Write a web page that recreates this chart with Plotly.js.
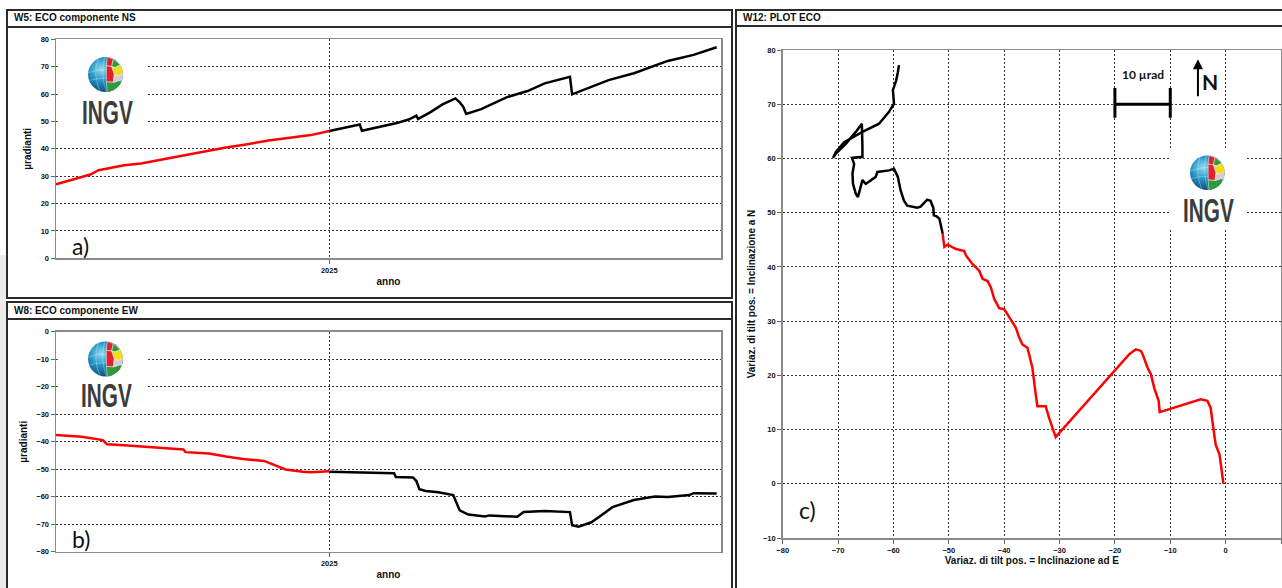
<!DOCTYPE html>
<html>
<head>
<meta charset="utf-8">
<script src="https://cdn.plot.ly/plotly-3.0.1.min.js"></script>
<style>html,body{margin:0;padding:0;background:#fff;}#chart{width:1282px;height:588px;}</style>
</head>
<body>
<div id="chart"></div>
<script>
// ---------- DATA ----------
// Panel a) NS component (µradianti) vs time (decimal year)
const tRedNS = [2024.363, 2024.403, 2024.443, 2024.462, 2024.492, 2024.522, 2024.561, 2024.611, 2024.660, 2024.710, 2024.759, 2024.809, 2024.858, 2024.908, 2024.957, 2025.000];
const nsRed  = [27.0, 28.8, 30.6, 32.2, 33.0, 34.0, 34.6, 36.1, 37.4, 38.9, 40.5, 41.7, 43.0, 44.0, 45.0, 46.5];
const tBlackNS = [2025.000, 2025.037, 2025.071, 2025.076, 2025.116, 2025.155, 2025.185, 2025.203, 2025.207, 2025.235, 2025.264, 2025.294, 2025.304, 2025.312, 2025.319, 2025.354, 2025.413, 2025.462, 2025.502, 2025.561, 2025.566, 2025.591, 2025.651, 2025.710, 2025.789, 2025.849, 2025.903];
const nsBlack  = [46.5, 47.7, 48.9, 46.6, 47.9, 49.3, 50.7, 52.1, 50.9, 53.3, 56.2, 58.4, 57.0, 55.4, 52.7, 54.5, 58.8, 61.1, 63.9, 66.3, 59.9, 61.5, 65.1, 67.6, 72.1, 74.3, 77.1];

// Panel b) EW component
const tRedEW = [2024.363, 2024.423, 2024.472, 2024.482, 2024.522, 2024.561, 2024.621, 2024.660, 2024.665, 2024.720, 2024.759, 2024.799, 2024.848, 2024.868, 2024.898, 2024.938, 2024.957, 2025.000];
const ewRed  = [-37.6, -38.2, -39.4, -40.9, -41.3, -41.8, -42.4, -42.8, -43.8, -44.3, -45.4, -46.3, -47.0, -48.2, -50.1, -50.9, -51.1, -50.7];
const tBlackEW = [2025.000, 2025.056, 2025.116, 2025.151, 2025.155, 2025.195, 2025.203, 2025.210, 2025.225, 2025.254, 2025.289, 2025.294, 2025.304, 2025.324, 2025.363, 2025.373, 2025.438, 2025.453, 2025.502, 2025.561, 2025.566, 2025.581, 2025.611, 2025.631, 2025.660, 2025.710, 2025.759, 2025.789, 2025.839, 2025.849, 2025.903];
const ewBlack  = [-50.9, -51.2, -51.5, -51.5, -52.8, -53.0, -54.3, -57.3, -57.9, -58.4, -59.4, -61.3, -65.0, -66.5, -67.2, -66.8, -67.3, -65.6, -65.2, -65.6, -70.4, -70.9, -69.3, -67.1, -63.8, -61.2, -59.9, -60.1, -59.4, -58.7, -58.8];

// Panel c) tilt vector plot: E (x) vs N (y)
const eRed = [-0.4, -0.7, -1.1, -1.8, -2.1, -2.4, -2.7, -3.3, -4.5, -11.9, -12.1, -12.9, -13.5, -14.1, -15.0, -15.3, -16.2, -17.4, -30.7, -31.3, -31.9, -32.5, -34.0, -34.3, -34.6, -34.9, -35.5, -35.8, -36.7, -37.3, -37.9, -39.1, -40.0, -40.9, -41.8, -42.4, -43.0, -43.9, -44.5, -45.7, -46.9, -47.2, -48.7, -50.2, -50.8, -51.0, -51.1];
const nRed = [0.0, 2.3, 5.4, 7.2, 9.1, 11.6, 14.0, 15.3, 15.6, 13.2, 15.3, 17.7, 20.2, 21.4, 23.9, 24.5, 24.8, 23.9, 8.6, 10.3, 12.2, 14.3, 14.3, 16.5, 19.6, 21.4, 23.9, 25.1, 25.7, 27.0, 28.8, 30.7, 32.2, 32.4, 34.1, 36.2, 37.4, 37.8, 39.3, 40.5, 42.1, 42.9, 43.3, 44.1, 43.7, 45.2, 46.1];
const eBlack = [-51.1, -51.4, -51.7, -52.2, -52.7, -52.8, -53.3, -53.9, -55.1, -55.7, -57.5, -58.1, -58.7, -59.2, -59.9, -60.8, -62.9, -63.2, -65.0, -65.6, -66.4, -66.8, -67.3, -67.4, -67.1, -67.5, -65.6, -65.6, -65.7, -66.8, -68.6, -70.4, -70.9, -70.4, -68.9, -65.6, -62.6, -60.8, -59.9, -60.1, -59.5, -59.2, -59.0];
const nBlack = [46.1, 47.3, 48.9, 49.3, 49.5, 50.9, 52.2, 52.4, 51.1, 50.9, 51.3, 52.2, 54.1, 56.6, 58.1, 57.8, 57.5, 56.6, 55.3, 56.0, 52.9, 53.5, 55.3, 57.2, 59.0, 60.1, 60.3, 62.1, 66.4, 64.9, 62.7, 60.9, 60.1, 61.2, 63.0, 64.9, 66.4, 68.6, 70.1, 72.6, 74.4, 75.9, 77.2];

// Tick labels / texts
const timeTickVals = [2025];
const timeTickText = ['2025'];
const panelTitles = ['W5: ECO componente NS', 'W8: ECO componente EW', 'W12: PLOT ECO'];
const panelLetters = ['a)', 'b)', 'c)'];

// ---------- LAYOUT HELPERS ----------
const W = 1282, H = 588;
const fx = p => p / W;
const fy = p => 1 - p / H;

const tickFont = {family: 'Liberation Sans, Arial, sans-serif', size: 7.5, color: '#111', weight: 'bold'};
const titleFont = {family: 'Liberation Sans, Arial, sans-serif', size: 10, color: '#111', weight: 'bold'};
const logoFont = {family: 'Liberation Sans, Arial, sans-serif', size: 33, color: '#3c3c3c', weight: 'bold'};
const letterFont = {family: 'Lato, Open Sans, sans-serif', size: 23, color: '#111'};
const GRID = {showgrid: true, gridcolor: '#3a3a3a', gridwidth: 1, griddash: '2px,2px',
  showline: true, linecolor: '#8a8a8a', linewidth: 1.5, mirror: true,
  ticks: 'outside', ticklen: 4, tickcolor: '#666', tickwidth: 1,
  tickfont: tickFont, zeroline: false, fixedrange: true};

function globeSVG(w, h, cx, cy, r) {
  const P = pts => pts.map(p => (cx + p[0] * r).toFixed(2) + ',' + (cy + p[1] * r).toFixed(2)).join(' ');
  const svg = `<svg xmlns="http://www.w3.org/2000/svg" width="${w}" height="${h}" viewBox="0 0 ${w} ${h}">
<defs>
<radialGradient id="g" cx="0.38" cy="0.35" r="0.72"><stop offset="0" stop-color="#8fdcf2"/><stop offset="0.45" stop-color="#2696c8"/><stop offset="1" stop-color="#0b416f"/></radialGradient>
<clipPath id="c"><circle cx="${cx}" cy="${cy}" r="${r}"/></clipPath>
</defs>
<rect x="0" y="0" width="${w}" height="${h}" fill="#ffffff"/>
<circle cx="${cx}" cy="${cy}" r="${r}" fill="url(#g)"/>
<g clip-path="url(#c)" stroke="#e8f6fb" stroke-opacity="0.55" stroke-width="0.6" fill="none">
<path d="M ${cx - r} ${cy - 0.1 * r} Q ${cx} ${cy - 0.45 * r} ${cx + r} ${cy - 0.2 * r}"/>
<path d="M ${cx - r} ${cy + 0.35 * r} Q ${cx} ${cy + 0.1 * r} ${cx + r} ${cy + 0.3 * r}"/>
<path d="M ${cx - 0.4 * r} ${cy - r} Q ${cx - 0.75 * r} ${cy} ${cx - 0.3 * r} ${cy + r}"/>
<path d="M ${cx - 0.05 * r} ${cy - r} Q ${cx - 0.3 * r} ${cy} ${cx + 0.05 * r} ${cy + r}"/>
</g>
<g clip-path="url(#c)" stroke="#ffffff" stroke-width="0.5">
<polygon fill="#e3202b" points="${P([[0.1,-1],[0.45,-0.88],[0.35,-0.45],[0.05,-0.5]])}"/>
<polygon fill="#2f9a3c" points="${P([[0.45,-0.88],[0.85,-0.55],[0.55,-0.4],[0.35,-0.45]])}"/>
<polygon fill="#f1dc1c" points="${P([[0.35,-0.45],[0.55,-0.4],[0.85,-0.55],[1.05,-0.1],[0.75,0.1],[0.5,0.02]])}"/>
<polygon fill="#e3202b" points="${P([[0.05,-0.5],[0.35,-0.45],[0.5,0.02],[0.45,0.45],[0.05,0.42]])}"/>
<polygon fill="#2f9a3c" points="${P([[0.05,0.42],[0.45,0.45],[0.92,0.3],[0.8,0.95],[0.1,1.05]])}"/>
<polygon fill="#d8c7d6" points="${P([[0.5,0.02],[0.75,0.1],[1.05,-0.1],[1.05,0.45],[0.92,0.3],[0.45,0.45]])}"/>
</g>
</svg>`;
  return 'data:image/svg+xml;charset=utf-8,' + encodeURIComponent(svg);
}

function logoImage(x0, y0, x1, y1, gcx, gcy, r) {
  const w = x1 - x0, h = y1 - y0;
  return {source: globeSVG(w, h, gcx - x0, gcy - y0, r), xref: 'paper', yref: 'paper',
    x: fx(x0), y: fy(y0), sizex: w / W, sizey: h / H, xanchor: 'left', yanchor: 'top',
    sizing: 'stretch', layer: 'above'};
}

// ---------- TRACES ----------
const traces = [
  {x: tRedNS, y: nsRed, xaxis: 'x', yaxis: 'y', mode: 'lines', line: {color: '#ff0000', width: 2.5}, hoverinfo: 'skip'},
  {x: tBlackNS, y: nsBlack, xaxis: 'x', yaxis: 'y', mode: 'lines', line: {color: '#000000', width: 2.5}, hoverinfo: 'skip'},
  {x: tRedEW, y: ewRed, xaxis: 'x2', yaxis: 'y2', mode: 'lines', line: {color: '#ff0000', width: 2.5}, hoverinfo: 'skip'},
  {x: tBlackEW, y: ewBlack, xaxis: 'x2', yaxis: 'y2', mode: 'lines', line: {color: '#000000', width: 2.5}, hoverinfo: 'skip'},
  {x: eRed, y: nRed, xaxis: 'x3', yaxis: 'y3', mode: 'lines', line: {color: '#ff0000', width: 2.5}, hoverinfo: 'skip'},
  {x: eBlack, y: nBlack, xaxis: 'x3', yaxis: 'y3', mode: 'lines', line: {color: '#000000', width: 2.5}, hoverinfo: 'skip'}
];

const timeAxis = Object.assign({}, GRID, {range: [2024.363, 2025.913], tickmode: 'array', tickvals: timeTickVals, ticktext: timeTickText,
  title: {text: 'anno', font: titleFont, standoff: 4}});

const frameLine = {color: '#2a2a2a', width: 2};

const layout = {
  width: W, height: H, margin: {l: 0, r: 0, t: 0, b: 0},
  paper_bgcolor: '#ffffff', plot_bgcolor: '#ffffff', showlegend: false,
  font: {family: 'Liberation Sans, Arial, sans-serif'},
  xaxis: Object.assign({}, timeAxis, {domain: [fx(56), fx(721)], anchor: 'y'}),
  yaxis: Object.assign({}, GRID, {domain: [fy(258.3), fy(39.3)], anchor: 'x', range: [0, 80], dtick: 10, tick0: 0,
    title: {text: 'µradianti', font: titleFont, standoff: 7}}),
  xaxis2: Object.assign({}, timeAxis, {domain: [fx(56), fx(721)], anchor: 'y2'}),
  yaxis2: Object.assign({}, GRID, {domain: [fy(551.7), fy(331.7)], anchor: 'x2', range: [-80, 0], dtick: 10, tick0: 0,
    title: {text: 'µradianti', font: titleFont, standoff: 7}}),
  xaxis3: Object.assign({}, GRID, {domain: [fx(782.7), fx(1281)], anchor: 'y3', range: [-80, 10], dtick: 10, tick0: 0,
    title: {text: 'Variaz. di tilt pos. = Inclinazione ad E', font: titleFont, standoff: 2}}),
  yaxis3: Object.assign({}, GRID, {domain: [fy(538), fy(50)], anchor: 'x3', range: [-10, 80], dtick: 10, tick0: 0,
    title: {text: 'Variaz. di tilt pos. = Inclinazione a N', font: titleFont, standoff: 5}}),
  shapes: [
    {type: 'rect', xref: 'paper', yref: 'paper', x0: 0, x1: fx(6), y0: fy(588), y1: fy(255), fillcolor: '#ececec', line: {width: 0}, layer: 'below'},
    {type: 'rect', xref: 'paper', yref: 'paper', x0: fx(7), x1: fx(732), y0: fy(298), y1: fy(10), line: frameLine},
    {type: 'line', xref: 'paper', yref: 'paper', x0: fx(7), x1: fx(732), y0: fy(27), y1: fy(27), line: frameLine},
    {type: 'rect', xref: 'paper', yref: 'paper', x0: fx(7), x1: fx(732), y0: fy(600), y1: fy(302), line: frameLine},
    {type: 'line', xref: 'paper', yref: 'paper', x0: fx(7), x1: fx(732), y0: fy(319), y1: fy(319), line: frameLine},
    {type: 'rect', xref: 'paper', yref: 'paper', x0: fx(736), x1: fx(1295), y0: fy(600), y1: fy(10), line: frameLine},
    {type: 'line', xref: 'paper', yref: 'paper', x0: fx(736), x1: fx(1295), y0: fy(26), y1: fy(26), line: frameLine},
    // scale bar 10 µrad
    {type: 'line', xref: 'x3', yref: 'y3', x0: -20, x1: -10, y0: 70, y1: 70, line: {color: '#000', width: 3}},
    {type: 'line', xref: 'x3', yref: 'y3', x0: -20, x1: -20, y0: 67.5, y1: 73, line: {color: '#000', width: 3}},
    {type: 'line', xref: 'x3', yref: 'y3', x0: -10, x1: -10, y0: 67.5, y1: 73, line: {color: '#000', width: 3}}
  ],
  images: [
    logoImage(57.5, 40.5, 146, 135, 105.5, 74.5, 17.5),
    logoImage(57.5, 332.5, 146, 410, 105.5, 359, 17.5),
    logoImage(1170, 148, 1247, 230, 1207.3, 172.7, 17.3)
  ],
  annotations: [
    {xref: 'paper', yref: 'paper', x: fx(12), y: fy(17.5), xanchor: 'left', yanchor: 'middle', showarrow: false, text: panelTitles[0], font: titleFont},
    {xref: 'paper', yref: 'paper', x: fx(12), y: fy(310.5), xanchor: 'left', yanchor: 'middle', showarrow: false, text: panelTitles[1], font: titleFont},
    {xref: 'paper', yref: 'paper', x: fx(741), y: fy(17.5), xanchor: 'left', yanchor: 'middle', showarrow: false, text: panelTitles[2], font: titleFont},
    {xref: 'paper', yref: 'paper', x: fx(80.5), y: fy(246), xanchor: 'center', yanchor: 'middle', showarrow: false, text: panelLetters[0], font: letterFont},
    {xref: 'paper', yref: 'paper', x: fx(81), y: fy(539), xanchor: 'center', yanchor: 'middle', showarrow: false, text: panelLetters[1], font: letterFont},
    {xref: 'paper', yref: 'paper', x: fx(807), y: fy(510), xanchor: 'center', yanchor: 'middle', showarrow: false, text: panelLetters[2], font: letterFont},
    {xref: 'paper', yref: 'paper', x: fx(107), y: fy(112), xanchor: 'center', yanchor: 'middle', showarrow: false, text: 'INGV', font: logoFont},
    {xref: 'paper', yref: 'paper', x: fx(106.5), y: fy(395.5), xanchor: 'center', yanchor: 'middle', showarrow: false, text: 'INGV', font: logoFont},
    {xref: 'paper', yref: 'paper', x: fx(1208), y: fy(210.5), xanchor: 'center', yanchor: 'middle', showarrow: false, text: 'INGV', font: logoFont},
    {xref: 'x3', yref: 'y3', x: -15, y: 73, yanchor: 'bottom', xanchor: 'center', yshift: 4, showarrow: false, text: '10 µrad', font: {family: 'Lato, Open Sans, sans-serif', size: 12, color: '#111', weight: 'bold'}},
    {xref: 'x3', yref: 'y3', x: -5, y: 78.3, axref: 'x3', ayref: 'y3', ax: -5, ay: 71.2, showarrow: true, arrowhead: 2, arrowsize: 1, arrowwidth: 2, arrowcolor: '#000', text: ''},
    {xref: 'x3', yref: 'y3', x: -5, y: 74.2, xanchor: 'left', yanchor: 'middle', xshift: 2, showarrow: false, text: 'N', font: {family: 'Lato, Open Sans, sans-serif', size: 21, color: '#111', weight: 'bold'}}
  ]
};

Plotly.newPlot('chart', traces, layout, {staticPlot: true, displayModeBar: false}).then(gd => {
  // condense the INGV logo lettering horizontally (narrow logo typeface)
  gd.querySelectorAll('.annotation-text').forEach(t => {
    if (t.textContent === 'INGV') {
      const b = t.getBBox();
      const cx = b.x + b.width / 2;
      t.setAttribute('transform', `translate(${cx},0) scale(0.63,1) translate(${-cx},0)`);
    }
  });
});
</script>
</body>
</html>
